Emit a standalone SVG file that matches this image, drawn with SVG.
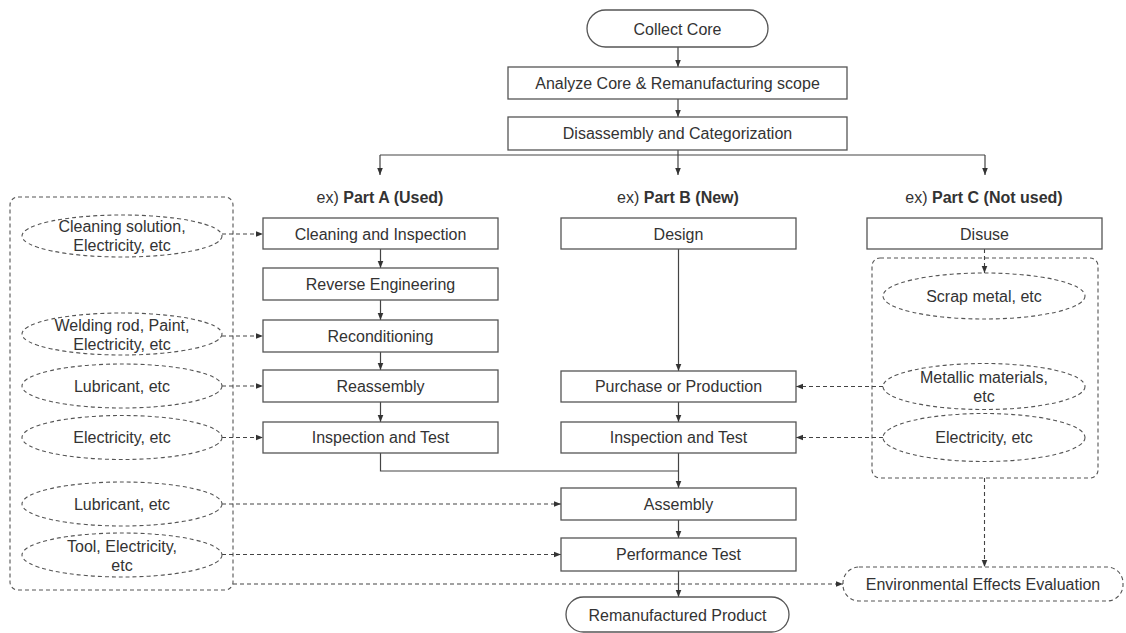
<svg xmlns="http://www.w3.org/2000/svg" width="1126" height="633" viewBox="0 0 1126 633">
<style>
text{font-family:"Liberation Sans",Arial,sans-serif;font-size:16px;fill:#333;text-anchor:middle;dominant-baseline:central}
.box{fill:#fff;stroke:#555;stroke-width:1.3}
.dbox{fill:none;stroke:#555;stroke-width:1.1;stroke-dasharray:4 3}
.ell{fill:#fff;stroke:#555;stroke-width:1.1;stroke-dasharray:4 3}
.ln{fill:none;stroke:#444;stroke-width:1.2}
.dl{fill:none;stroke:#444;stroke-width:1.1;stroke-dasharray:4 3}
b{font-weight:bold}
</style>
<defs>
<marker id="arr" viewBox="0 0 10 10" refX="10" refY="5" markerWidth="7" markerHeight="8" markerUnits="userSpaceOnUse" orient="auto"><path d="M0,1 L10,5 L0,9 z" fill="#333"/></marker>
</defs>

<g id="containers">
<rect id="left-container" class="dbox" x="10" y="197" width="223" height="393" rx="8"/>
<rect id="right-container" class="dbox" x="872" y="258" width="226" height="220" rx="8"/>
</g>

<g id="connectors">
<line class="ln" x1="678" y1="47" x2="678" y2="67" marker-end="url(#arr)"/>
<line class="ln" x1="678" y1="99" x2="678" y2="117" marker-end="url(#arr)"/>
<line class="ln" x1="678" y1="150" x2="678" y2="175" marker-end="url(#arr)"/>
<line class="ln" x1="380" y1="155" x2="985" y2="155"/>
<line class="ln" x1="380" y1="155" x2="380" y2="175" marker-end="url(#arr)"/>
<line class="ln" x1="985" y1="155" x2="985" y2="175" marker-end="url(#arr)"/>
<line class="ln" x1="380.5" y1="249" x2="380.5" y2="268" marker-end="url(#arr)"/>
<line class="ln" x1="380.5" y1="300" x2="380.5" y2="320" marker-end="url(#arr)"/>
<line class="ln" x1="380.5" y1="352" x2="380.5" y2="370" marker-end="url(#arr)"/>
<line class="ln" x1="380.5" y1="402" x2="380.5" y2="422" marker-end="url(#arr)"/>
<polyline class="ln" points="380.5,453 380.5,471 678.5,471"/>
<line class="ln" x1="678.5" y1="249" x2="678.5" y2="371" marker-end="url(#arr)"/>
<line class="ln" x1="678.5" y1="402" x2="678.5" y2="422" marker-end="url(#arr)"/>
<line class="ln" x1="678.5" y1="453" x2="678.5" y2="488" marker-end="url(#arr)"/>
<line class="ln" x1="678.5" y1="520" x2="678.5" y2="538" marker-end="url(#arr)"/>
<line class="ln" x1="678.5" y1="571" x2="678.5" y2="597" marker-end="url(#arr)"/>
<line class="dl" x1="222" y1="234" x2="263" y2="234" marker-end="url(#arr)"/>
<line class="dl" x1="222" y1="336" x2="263" y2="336" marker-end="url(#arr)"/>
<line class="dl" x1="222" y1="386" x2="263" y2="386" marker-end="url(#arr)"/>
<line class="dl" x1="222" y1="437.5" x2="263" y2="437.5" marker-end="url(#arr)"/>
<line class="dl" x1="222" y1="504" x2="561" y2="504" marker-end="url(#arr)"/>
<line class="dl" x1="222" y1="554.5" x2="561" y2="554.5" marker-end="url(#arr)"/>
<line class="dl" x1="233" y1="584" x2="843" y2="584" marker-end="url(#arr)"/>
<line class="dl" x1="984.5" y1="249" x2="984.5" y2="273" marker-end="url(#arr)"/>
<line class="dl" x1="883" y1="386.5" x2="796" y2="386.5" marker-end="url(#arr)"/>
<line class="dl" x1="883" y1="437.5" x2="796" y2="437.5" marker-end="url(#arr)"/>
<line class="dl" x1="984.5" y1="478" x2="984.5" y2="567" marker-end="url(#arr)"/>
</g>

<g id="collect-core"><rect class="box" x="587" y="10" width="181" height="37" rx="18.5"/><text x="677.5" y="29">Collect Core</text></g>
<g id="analyze"><rect class="box" x="508" y="67" width="339" height="32"/><text x="677.5" y="83.5">Analyze Core &amp; Remanufacturing scope</text></g>
<g id="disassembly"><rect class="box" x="508" y="117" width="339" height="33"/><text x="677.5" y="133.5">Disassembly and Categorization</text></g>

<g id="label-a"><text x="380" y="197">ex) <tspan font-weight="bold">Part A (Used)</tspan></text></g>
<g id="label-b"><text x="678" y="197">ex) <tspan font-weight="bold">Part B (New)</tspan></text></g>
<g id="label-c"><text x="984" y="197">ex) <tspan font-weight="bold">Part C (Not used)</tspan></text></g>

<g id="cleaning"><rect class="box" x="263" y="218" width="235" height="31"/><text x="380.5" y="234">Cleaning and Inspection</text></g>
<g id="reverse"><rect class="box" x="263" y="268" width="235" height="32"/><text x="380.5" y="284.5">Reverse Engineering</text></g>
<g id="reconditioning"><rect class="box" x="263" y="320" width="235" height="32"/><text x="380.5" y="336">Reconditioning</text></g>
<g id="reassembly"><rect class="box" x="263" y="370" width="235" height="32"/><text x="380.5" y="386">Reassembly</text></g>
<g id="inspection-a"><rect class="box" x="263" y="422" width="235" height="31"/><text x="380.5" y="437.5">Inspection and Test</text></g>

<g id="design"><rect class="box" x="561" y="218" width="235" height="31"/><text x="678.5" y="234">Design</text></g>
<g id="purchase"><rect class="box" x="561" y="371" width="235" height="31"/><text x="678.5" y="386.5">Purchase or Production</text></g>
<g id="inspection-b"><rect class="box" x="561" y="422" width="235" height="31"/><text x="678.5" y="437.5">Inspection and Test</text></g>
<g id="assembly"><rect class="box" x="561" y="488" width="235" height="32"/><text x="678.5" y="504">Assembly</text></g>
<g id="performance"><rect class="box" x="561" y="538" width="235" height="33"/><text x="678.5" y="554.5">Performance Test</text></g>
<g id="remanufactured"><rect class="box" x="566" y="597" width="223" height="35" rx="17.5"/><text x="677.5" y="615">Remanufactured Product</text></g>

<g id="disuse"><rect class="box" x="867" y="218" width="235" height="31"/><text x="984.5" y="234">Disuse</text></g>
<g id="environmental"><rect class="dbox" x="843" y="567" width="280" height="34" rx="16"/><text x="983" y="584">Environmental Effects Evaluation</text></g>

<g id="in-cleaning"><ellipse class="ell" cx="122" cy="236" rx="100" ry="21"/><text x="122" y="226">Cleaning solution,</text><text x="122" y="245">Electricity, etc</text></g>
<g id="in-welding"><ellipse class="ell" cx="122" cy="334" rx="100" ry="21"/><text x="122" y="325">Welding rod, Paint,</text><text x="122" y="344">Electricity, etc</text></g>
<g id="in-lubricant1"><ellipse class="ell" cx="122" cy="386" rx="100" ry="22"/><text x="122" y="386">Lubricant, etc</text></g>
<g id="in-electricity1"><ellipse class="ell" cx="122" cy="437.5" rx="100" ry="22"/><text x="122" y="437.5">Electricity, etc</text></g>
<g id="in-lubricant2"><ellipse class="ell" cx="122" cy="504" rx="100" ry="22"/><text x="122" y="504">Lubricant, etc</text></g>
<g id="in-tool"><ellipse class="ell" cx="122" cy="555" rx="100" ry="22"/><text x="122" y="546">Tool, Electricity,</text><text x="122" y="565">etc</text></g>

<g id="out-scrap"><ellipse class="ell" cx="984" cy="296" rx="101" ry="23"/><text x="984" y="296">Scrap metal, etc</text></g>
<g id="in-metallic"><ellipse class="ell" cx="984" cy="386.5" rx="101" ry="23"/><text x="984" y="377">Metallic materials,</text><text x="984" y="396">etc</text></g>
<g id="in-electricity-c"><ellipse class="ell" cx="984" cy="437.5" rx="101" ry="24"/><text x="984" y="437.5">Electricity, etc</text></g>
</svg>
